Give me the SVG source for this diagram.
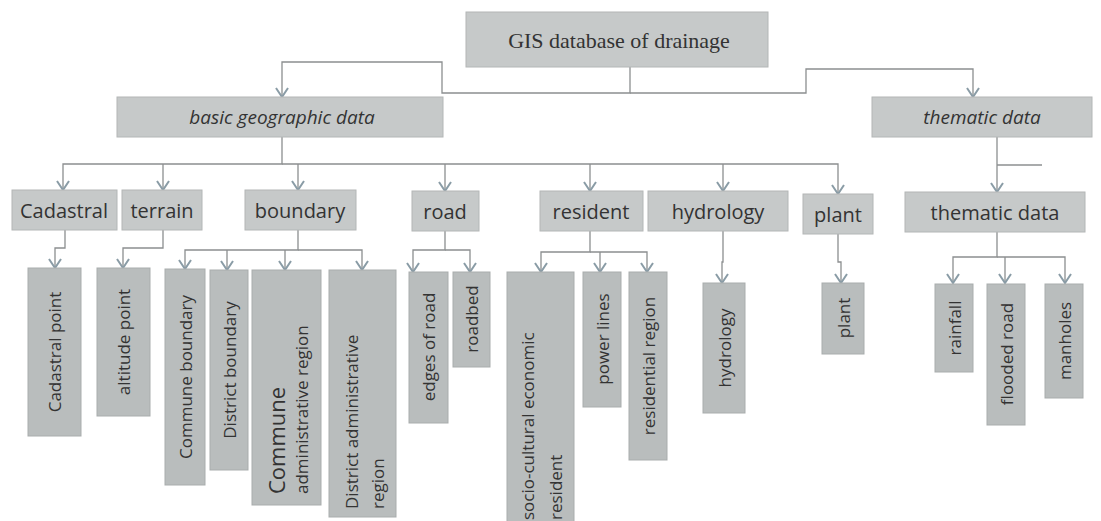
<svg xmlns="http://www.w3.org/2000/svg" width="1101" height="521" viewBox="0 0 1101 521">
<defs>
<style>
.bx{fill:#c6c9c9;stroke:#b3b6b6;stroke-width:1}
.bx3{fill:#b9bdbd;stroke:#a9adad;stroke-width:1}
.t{font-family:"Open Sans","Liberation Sans",sans-serif;fill:#333333;text-anchor:middle;dominant-baseline:central}
.t2{font-size:20px}
.t3{font-size:17px}
.ts{font-family:"Open Sans","Liberation Sans",sans-serif;fill:#333333;dominant-baseline:central}
.it{font-style:italic;font-size:19px}
.c{fill:none;stroke:#8c8f90;stroke-width:1.3}
</style>
<marker id="ah" markerWidth="12" markerHeight="16" refX="11" refY="8" orient="auto" markerUnits="userSpaceOnUse" viewBox="0 0 12 16">
<path d="M2,2 L11,8 L2,14" fill="none" stroke="#8a9ca6" stroke-width="2"/>
</marker>
</defs>
<rect width="1101" height="521" fill="#ffffff"/>

<g id="connectors">
<path class="c" d="M630,67 V93 H442 V62 H282 V97" marker-end="url(#ah)"/>
<path class="c" d="M630,93 H806 V69 H973 V97" marker-end="url(#ah)"/>
<path class="c" d="M282,137 V164 H63 V190" marker-end="url(#ah)"/>
<path class="c" d="M163,164 V190" marker-end="url(#ah)"/>
<path class="c" d="M298,164 V190" marker-end="url(#ah)"/>
<path class="c" d="M445,164 V191" marker-end="url(#ah)"/>
<path class="c" d="M590,164 V191" marker-end="url(#ah)"/>
<path class="c" d="M723,164 V191" marker-end="url(#ah)"/>
<path class="c" d="M282,164 H838 V194" marker-end="url(#ah)"/>
<path class="c" d="M997,137 V192" marker-end="url(#ah)"/>
<path class="c" d="M997,165 H1042"/>
<path class="c" d="M65,230 V248 H55 V268" marker-end="url(#ah)"/>
<path class="c" d="M163,230 V248 H123 V268" marker-end="url(#ah)"/>
<path class="c" d="M298,230 V250 H185 V269" marker-end="url(#ah)"/>
<path class="c" d="M227,250 V270" marker-end="url(#ah)"/>
<path class="c" d="M285,250 V270" marker-end="url(#ah)"/>
<path class="c" d="M298,250 H362 V270" marker-end="url(#ah)"/>
<path class="c" d="M445,231 V250 H413 V272" marker-end="url(#ah)"/>
<path class="c" d="M445,250 H470 V272" marker-end="url(#ah)"/>
<path class="c" d="M590,231 V252 H541 V272" marker-end="url(#ah)"/>
<path class="c" d="M600,252 V272" marker-end="url(#ah)"/>
<path class="c" d="M590,252 H647 V272" marker-end="url(#ah)"/>
<path class="c" d="M723,231 V262 H722 V283" marker-end="url(#ah)"/>
<path class="c" d="M838,234 V262 H841 V283" marker-end="url(#ah)"/>
<path class="c" d="M997,232 V257 H953 V283" marker-end="url(#ah)"/>
<path class="c" d="M1005,257 V283" marker-end="url(#ah)"/>
<path class="c" d="M997,257 H1065 V283" marker-end="url(#ah)"/>
</g>

<g id="root"><rect class="bx" x="466" y="12" width="302" height="55"/><text x="619" y="40" style="font-family:'Liberation Serif','DejaVu Serif',serif;font-size:22px;fill:#333333;text-anchor:middle;dominant-baseline:central">GIS database of drainage</text></g>
<g id="basic"><rect class="bx" x="117" y="97" width="326" height="40"/><text class="t it" x="282" y="117">basic geographic data</text></g>
<g id="thematic"><rect class="bx" x="872" y="97" width="220" height="40"/><text class="t it" x="982" y="117">thematic data</text></g>

<g id="cadastral"><rect class="bx" x="12" y="190" width="105" height="40"/><text class="t t2" x="64" y="210">Cadastral</text></g>
<g id="terrain"><rect class="bx" x="122" y="190" width="80" height="40"/><text class="t t2" x="162" y="210">terrain</text></g>
<g id="boundary"><rect class="bx" x="245" y="190" width="111" height="40"/><text class="t t2" x="300" y="210">boundary</text></g>
<g id="road"><rect class="bx" x="412" y="191" width="67" height="40"/><text class="t t2" x="445" y="211">road</text></g>
<g id="resident"><rect class="bx" x="540" y="191" width="103" height="40"/><text class="t t2" x="591" y="211">resident</text></g>
<g id="hydrology"><rect class="bx" x="648" y="191" width="140" height="40"/><text class="t t2" x="718" y="211">hydrology</text></g>
<g id="plant"><rect class="bx" x="803" y="194" width="70" height="40"/><text class="t t2" x="838" y="214">plant</text></g>
<g id="thematic2"><rect class="bx" x="905" y="192" width="180" height="40"/><text class="t t2" x="995" y="212">thematic data</text></g>

<g id="cadastral-point"><rect class="bx3" x="28" y="268" width="53" height="168"/><text class="t t3" transform="translate(54.5,352) rotate(-90)">Cadastral point</text></g>
<g id="altitude-point"><rect class="bx3" x="97" y="268" width="53" height="148"/><text class="t t3" transform="translate(123.5,342) rotate(-90)">altitude point</text></g>
<g id="commune-boundary"><rect class="bx3" x="165" y="269" width="40" height="216"/><text class="t t3" transform="translate(185,377) rotate(-90)">Commune boundary</text></g>
<g id="district-boundary"><rect class="bx3" x="210" y="270" width="38" height="200"/><text class="t t3" transform="translate(229,370) rotate(-90)">District boundary</text></g>
<g id="commune-admin"><rect class="bx3" x="252" y="270" width="69" height="235"/><text class="ts" transform="translate(276,494) rotate(-90)" style="font-size:22px">Commune</text><text class="ts t3" transform="translate(301,494) rotate(-90)">administrative region</text></g>
<g id="district-admin"><rect class="bx3" x="329" y="270" width="67" height="247"/><text class="ts t3" transform="translate(351,509) rotate(-90)">District administrative</text><text class="ts t3" transform="translate(377,509) rotate(-90)">region</text></g>
<g id="edges-of-road"><rect class="bx3" x="409" y="272" width="39" height="151"/><text class="t t3" transform="translate(428.5,347) rotate(-90)">edges of road</text></g>
<g id="roadbed"><rect class="bx3" x="453" y="272" width="37" height="95"/><text class="t t3" transform="translate(471.5,319) rotate(-90)">roadbed</text></g>
<g id="socio"><rect class="bx3" x="507" y="272" width="67" height="255"/><text class="ts t3" transform="translate(527,520) rotate(-90)">socio-cultural economic</text><text class="ts t3" transform="translate(555,520) rotate(-90)">resident</text></g>
<g id="power-lines"><rect class="bx3" x="583" y="272" width="38" height="135"/><text class="t t3" transform="translate(602,339) rotate(-90)">power lines</text></g>
<g id="residential-region"><rect class="bx3" x="629" y="272" width="38" height="188"/><text class="t t3" transform="translate(648,366) rotate(-90)">residential region</text></g>
<g id="hydrology2"><rect class="bx3" x="703" y="283" width="42" height="130"/><text class="t t3" transform="translate(724,348) rotate(-90)">hydrology</text></g>
<g id="plant2"><rect class="bx3" x="822" y="283" width="42" height="71"/><text class="t t3" transform="translate(843,318) rotate(-90)">plant</text></g>
<g id="rainfall"><rect class="bx3" x="935" y="284" width="38" height="88"/><text class="t t3" transform="translate(954,328) rotate(-90)">rainfall</text></g>
<g id="flooded-road"><rect class="bx3" x="987" y="284" width="38" height="141"/><text class="t t3" transform="translate(1006,354) rotate(-90)">flooded road</text></g>
<g id="manholes"><rect class="bx3" x="1045" y="284" width="38" height="114"/><text class="t t3" transform="translate(1064,341) rotate(-90)">manholes</text></g>
</svg>
